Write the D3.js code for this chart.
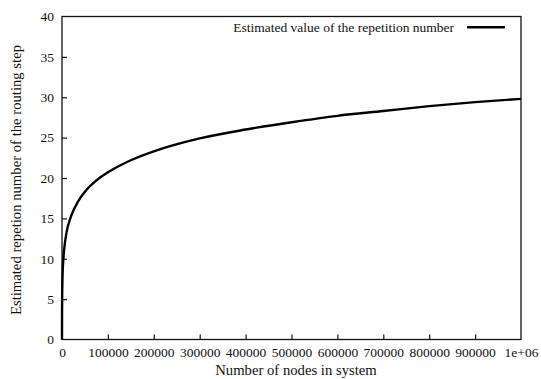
<!DOCTYPE html>
<html>
<head>
<meta charset="utf-8">
<script src="https://cdn.jsdelivr.net/npm/d3@7"></script>
<style>
  html, body { margin: 0; padding: 0; background: #fff; }
  svg text { font-family: "Liberation Serif", "Times New Roman", serif; fill: #111; }
</style>
</head>
<body>
<svg id="chart" width="541" height="379"></svg>
<script>
// Estimated repetition number of the routing step vs. system size
const nodes = [0, 10, 100, 1000, 3000, 5000, 10000, 20000, 35000, 50000, 75000, 100000,
               150000, 200000, 300000, 400000, 500000, 600000, 700000, 800000, 900000, 1000000];
const repetitions = [0, 0.8, 3.3, 7.5, 10.0, 11.3, 13.3, 15.3, 17.1, 18.3, 19.7, 20.7,
                     22.2, 23.3, 24.9, 26.0, 26.9, 27.7, 28.3, 28.9, 29.4, 29.8];
const xTicks = [0, 100000, 200000, 300000, 400000, 500000, 600000, 700000, 800000, 900000, 1000000];
const xTickLabels = ["0", "100000", "200000", "300000", "400000", "500000", "600000", "700000", "800000", "900000", "1e+06"];
const yTicks = [0, 5, 10, 15, 20, 25, 30, 35, 40];
const seriesName = "Estimated value of the repetition number";

const svg = d3.select("#chart");
const margin = { left: 62, right: 20, top: 16.5, bottom: 39.5 };
const W = 541, H = 379;
const fontSize = 13.5;
const titleSize = 14.7;

const x = d3.scaleLinear().domain([0, 1000000]).range([margin.left, W - margin.right]);
const y = d3.scaleLinear().domain([0, 40]).range([H - margin.bottom, margin.top]);

// bottom axis, ticks pointing inward
const xAxis = d3.axisBottom(x).tickValues(xTicks)
  .tickFormat((d, i) => xTickLabels[i]).tickSizeInner(-5).tickSizeOuter(0).tickPadding(8);
const gx = svg.append("g").attr("transform", `translate(0,${y(0)})`).call(xAxis);
gx.attr("font-family", null).attr("font-size", null);
gx.select(".domain").remove();
gx.selectAll("line").attr("stroke", "#111").attr("stroke-width", 1.2);
gx.selectAll("text").attr("font-size", fontSize).attr("fill", "#111");
gx.selectAll(".tick").filter(d => d === 0 || d === 1000000).select("line").remove();

const yAxis = d3.axisLeft(y).tickValues(yTicks).tickSizeInner(-5).tickSizeOuter(0).tickPadding(8);
const gy = svg.append("g").attr("transform", `translate(${x(0)},0)`).call(yAxis);
gy.attr("font-family", null).attr("font-size", null);
gy.select(".domain").remove();
gy.selectAll("line").attr("stroke", "#111").attr("stroke-width", 1.2);
gy.selectAll("text").attr("font-size", fontSize).attr("fill", "#111");
gy.selectAll(".tick").filter(d => d === 0 || d === 40).select("line").remove();

// plot frame
svg.append("rect")
  .attr("x", x(0)).attr("y", y(40))
  .attr("width", x(1000000) - x(0)).attr("height", y(0) - y(40))
  .attr("fill", "none").attr("stroke", "#111").attr("stroke-width", 1.3);

// curve
svg.append("path")
  .datum(nodes.map((n, i) => [n, repetitions[i]]))
  .attr("d", d3.line().x(d => x(d[0])).y(d => y(d[1])).curve(d3.curveMonotoneX))
  .attr("fill", "none").attr("stroke", "#000").attr("stroke-width", 2.4)
  .attr("stroke-linejoin", "round");

// legend
svg.append("text").attr("x", 454).attr("y", 31.5).attr("text-anchor", "end")
  .attr("font-size", fontSize).text(seriesName);
svg.append("line").attr("x1", 467).attr("x2", 505).attr("y1", 27.3).attr("y2", 27.3)
  .attr("stroke", "#000").attr("stroke-width", 2.4);

// axis titles
svg.append("text").attr("x", 296).attr("y", 374.5)
  .attr("text-anchor", "middle").attr("font-size", titleSize).text("Number of nodes in system");
svg.append("text")
  .attr("transform", `translate(21,180) rotate(-90)`)
  .attr("text-anchor", "middle").attr("font-size", titleSize)
  .text("Estimated repetion number of the routing step");
</script>
</body>
</html>
